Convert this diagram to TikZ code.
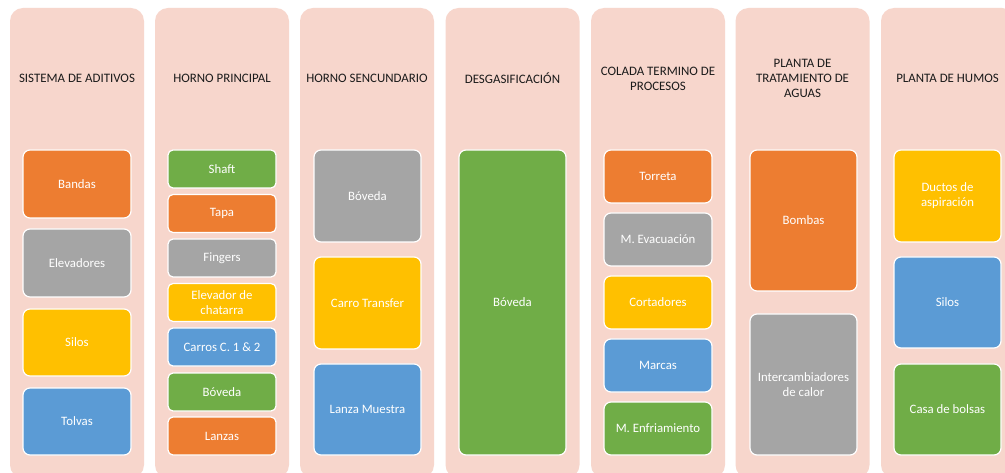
\documentclass[tikz,border=0pt]{standalone}
\usepackage{fontspec}
\setmainfont{Carlito}
\definecolor{panelc}{HTML}{F7D6CC}
\definecolor{orng}{HTML}{ED7D31}
\definecolor{gry}{HTML}{A5A5A5}
\definecolor{ylw}{HTML}{FFC000}
\definecolor{blu}{HTML}{5B9BD5}
\definecolor{grn}{HTML}{70AD47}
\definecolor{ttl}{HTML}{1A1A1A}
\tikzset{
  panel/.style={rectangle, rounded corners=13pt, fill=panelc, draw=none, minimum width=134pt, minimum height=470pt, inner sep=0pt},
  ttlnode/.style={text=ttl, align=center, font=\fontsize{12.9}{15}\selectfont, inner sep=0pt},
  box/.style={rectangle, rounded corners=7pt, draw=white, line width=1.2pt, text=white, align=center, font=\fontsize{12.8}{15}\selectfont, inner sep=0pt, minimum width=108pt},
  sbox/.style={box, rounded corners=5pt},
  fo/.style={fill=orng}, fg/.style={fill=gry}, fy/.style={fill=ylw}, fb/.style={fill=blu}, fgr/.style={fill=grn}
}
\begin{document}
\begin{tikzpicture}[x=1pt,y=-1pt]
\clip (0,0) rectangle (1005,473);
\fill[white] (0,0) rectangle (1005,473);
% panels
\node[panel] (p1) at (77,243) {};
\node[panel] (p2) at (222,243) {};
\node[panel] (p3) at (367,243) {};
\node[panel] (p4) at (512.5,243) {};
\node[panel] (p5) at (658,243) {};
\node[panel] (p6) at (802.5,243) {};
\node[panel] (p7) at (948,243) {};
% titles
\node[ttlnode] (t1) at (77,78) {SISTEMA DE ADITIVOS};
\node[ttlnode] (t2) at (222,78) {HORNO PRINCIPAL};
\node[ttlnode] (t3) at (367,78) {HORNO SENCUNDARIO};
\node[ttlnode] (t4) at (512.5,78) {DESGASIFICACIÓN};
\node[ttlnode] (t5) at (658,78.5) {COLADA TERMINO DE\\PROCESOS};
\node[ttlnode] (t6) at (802.5,78) {PLANTA DE\\TRATAMIENTO DE\\AGUAS};
\node[ttlnode] (t7) at (947.5,78) {PLANTA DE HUMOS};
% column 1
\node[box,fo,minimum height=68pt] (c1a) at (77,184) {Bandas};
\node[box,fg,minimum height=68pt] (c1b) at (77,263) {Elevadores};
\node[box,fy,minimum height=67pt] (c1c) at (77,342.5) {Silos};
\node[box,fb,minimum height=67pt] (c1d) at (77,421.5) {Tolvas};
% column 2
\node[sbox,fgr,minimum height=38pt] (c2a) at (222,169) {Shaft};
\node[sbox,fo,minimum height=38pt] (c2b) at (222,213.5) {Tapa};
\node[sbox,fg,minimum height=38pt] (c2c) at (222,258) {Fingers};
\node[sbox,fy,minimum height=38pt] (c2d) at (222,302.5) {Elevador de\\chatarra};
\node[sbox,fb,minimum height=38pt] (c2e) at (222,347) {Carros C. 1 \& 2};
\node[sbox,fgr,minimum height=38pt] (c2f) at (222,392) {Bóveda};
\node[sbox,fo,minimum height=38pt] (c2g) at (222,436) {Lanzas};
% column 3
\node[box,fg,minimum width=107pt,minimum height=92pt] (c3a) at (367.5,196) {Bóveda};
\node[box,fy,minimum width=107pt,minimum height=92pt] (c3b) at (367.5,303) {Carro Transfer};
\node[box,fb,minimum width=107pt,minimum height=91pt] (c3c) at (367.5,409.5) {Lanza Muestra};
% column 4
\node[box,fgr,minimum width=107pt,minimum height=305pt] (c4a) at (512.5,302.5) {Bóveda};
% column 5
\node[box,fo,minimum height=53pt] (c5a) at (658,176.5) {Torreta};
\node[box,fg,minimum height=53pt] (c5b) at (658,239.5) {M. Evacuación};
\node[box,fy,minimum height=53pt] (c5c) at (658,302.5) {Cortadores};
\node[box,fb,minimum height=53pt] (c5d) at (658,365.5) {Marcas};
\node[box,fgr,minimum height=53pt] (c5e) at (658,428.5) {M. Enfriamiento};
% column 6
\node[box,fo,minimum width=107pt,minimum height=141pt] (c6a) at (803.5,220.5) {Bombas};
\node[box,fg,minimum width=107pt,minimum height=141pt] (c6b) at (803.5,384.5) {Intercambiadores\\de calor};
% column 7
\node[box,fy,minimum width=107pt,minimum height=92pt] (c7a) at (947.5,196) {Ductos de\\aspiración};
\node[box,fb,minimum width=107pt,minimum height=91pt] (c7b) at (947.5,302.5) {Silos};
\node[box,fgr,minimum width=107pt,minimum height=91pt] (c7c) at (947.5,409.5) {Casa de bolsas};
\end{tikzpicture}
\end{document}
